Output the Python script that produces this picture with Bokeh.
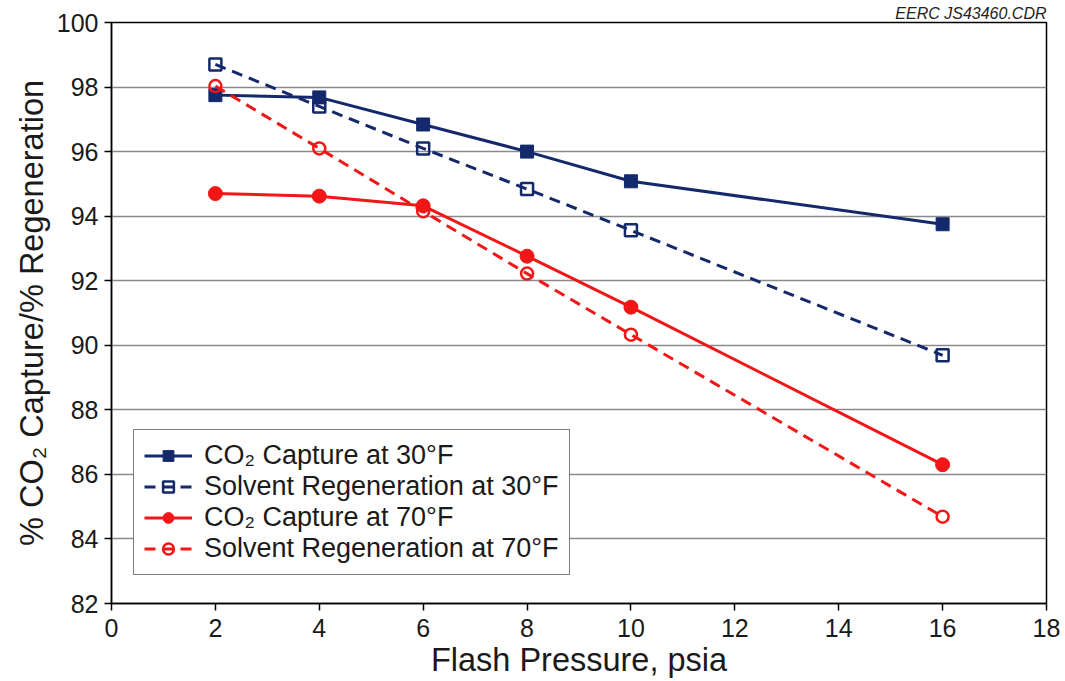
from bokeh.plotting import figure
from bokeh.models import FixedTicker, Legend, LegendItem, Range1d
from bokeh.embed import file_html
from bokeh.resources import INLINE

pressure = [2, 4, 6, 8, 10, 16]
capture_30 = [97.75, 97.68, 96.84, 96.0, 95.08, 93.75]
regen_30 = [98.7, 97.4, 96.1, 94.84, 93.56, 89.69]
capture_70 = [94.7, 94.62, 94.32, 92.76, 91.18, 86.3]
regen_70 = [98.03, 96.1, 94.15, 92.22, 90.33, 84.69]
x_ticks = [0, 2, 4, 6, 8, 10, 12, 14, 16, 18]
y_ticks = [82, 84, 86, 88, 90, 92, 94, 96, 98, 100]

NAVY = "#13296b"
RED = "#f21616"
FONT = "Liberation Sans"

p = figure(width=1065, height=681, min_border_left=111, min_border_top=22,
           min_border_right=19, min_border_bottom=78,
           output_backend="svg", toolbar_location=None,
           x_range=Range1d(0, 18), y_range=Range1d(82, 100))

p.title.text = "EERC JS43460.CDR"
p.title.align = "right"
p.title.text_font = FONT
p.title.text_font_size = "16px"
p.title.text_font_style = "italic"
p.title.text_color = "#222222"
p.title.standoff = 2
p.title.offset = 0

p.outline_line_color = "black"
p.outline_line_width = 1.5
p.xgrid.grid_line_color = None
p.ygrid.grid_line_color = "#8a8a8a"
p.ygrid.grid_line_width = 1.5

for ax in (p.xaxis[0], p.yaxis[0]):
    ax.axis_line_color = "black"
    ax.axis_line_width = 1.5
    ax.major_tick_line_color = "black"
    ax.major_tick_line_width = 1.5
    ax.major_tick_out = 7
    ax.major_tick_in = 0
    ax.minor_tick_line_color = None
    ax.major_label_text_font = FONT
    ax.major_label_text_font_size = "25px"
    ax.major_label_text_color = "#1a1a1a"
    ax.axis_label_text_font = FONT
    ax.axis_label_text_font_size = "32.5px"
    ax.axis_label_text_font_style = "normal"
    ax.axis_label_text_color = "#1a1a1a"

p.xaxis.ticker = FixedTicker(ticks=x_ticks)
p.yaxis.ticker = FixedTicker(ticks=y_ticks)
p.xaxis.axis_label = "Flash Pressure, psia"
p.yaxis.axis_label = "% CO\u2082 Capture/% Regeneration"
p.xaxis.major_label_standoff = 8
p.yaxis.major_label_standoff = 6
p.xaxis.axis_label_standoff = 2
p.yaxis.axis_label_standoff = 4

l1 = p.line(pressure, capture_30, line_color=NAVY, line_width=3)
m1 = p.scatter(pressure, capture_30, marker="square", size=13, fill_color=NAVY, line_color=NAVY)
l2 = p.line(pressure, regen_30, line_color=NAVY, line_width=3, line_dash="11 7")
m2 = p.scatter(pressure, regen_30, marker="square", size=12, fill_color=None, line_color=NAVY, line_width=2.5)
l3 = p.line(pressure, capture_70, line_color=RED, line_width=3)
m3 = p.scatter(pressure, capture_70, marker="circle", size=14, fill_color=RED, line_color=RED)
l4 = p.line(pressure, regen_70, line_color=RED, line_width=3, line_dash="11 7")
m4 = p.scatter(pressure, regen_70, marker="circle", size=12, fill_color=None, line_color=RED, line_width=2.5)

legend = Legend(items=[
    LegendItem(label="CO\u2082 Capture at 30\u00b0F", renderers=[l1, m1]),
    LegendItem(label="Solvent Regeneration at 30\u00b0F", renderers=[l2, m2]),
    LegendItem(label="CO\u2082 Capture at 70\u00b0F", renderers=[l3, m3]),
    LegendItem(label="Solvent Regeneration at 70\u00b0F", renderers=[l4, m4]),
], location=(22, 28))
legend.border_line_color = "black"
legend.border_line_width = 1.5
legend.background_fill_alpha = 1
legend.label_text_font = FONT
legend.label_text_font_size = "27px"
legend.label_text_color = "#1a1a1a"
legend.glyph_width = 48
legend.glyph_height = 27
legend.label_height = 27
legend.spacing = -1
legend.padding = 10
legend.margin = 0
legend.label_standoff = 12
p.add_layout(legend, "center")

open("out.html", "w").write(file_html(p, INLINE))
